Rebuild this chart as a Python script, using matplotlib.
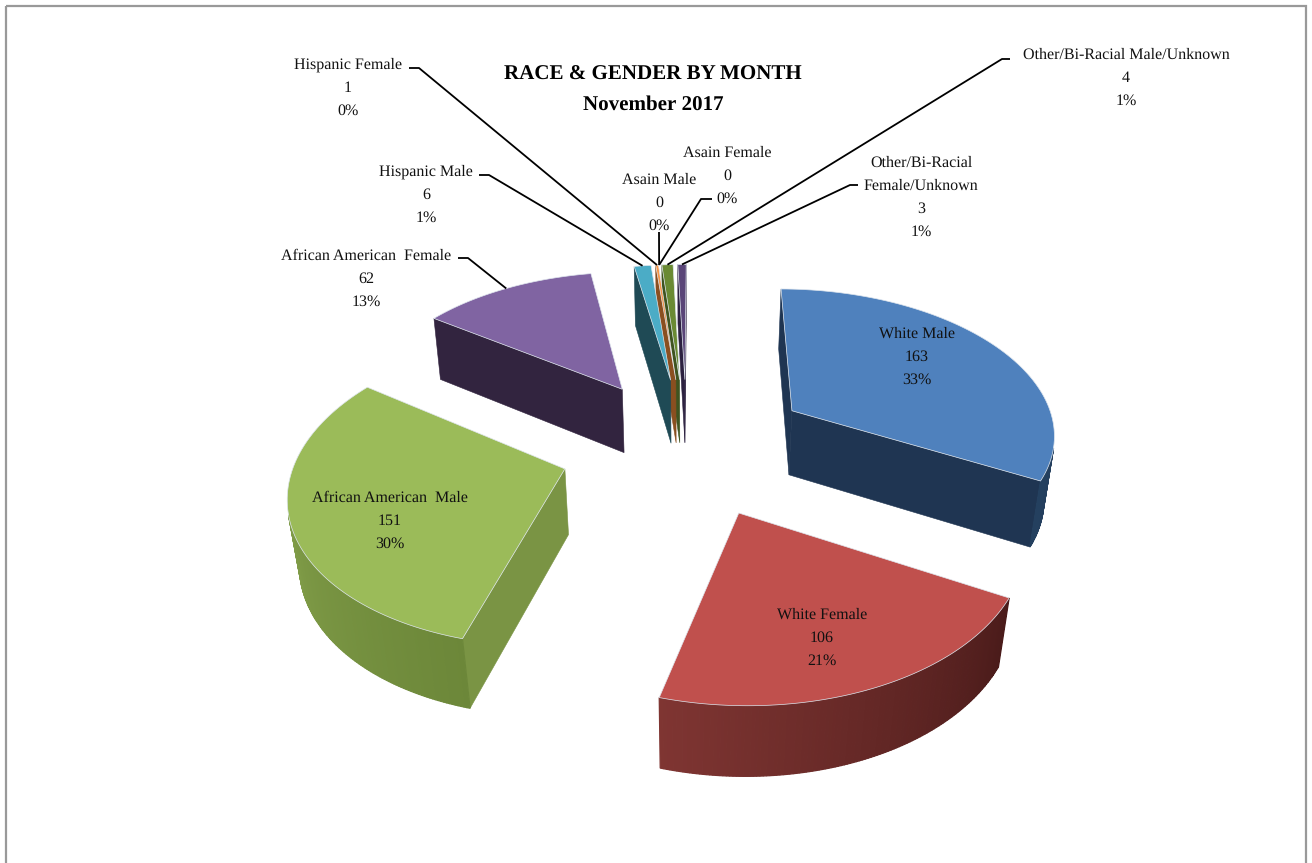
import numpy as np
import matplotlib
matplotlib.use("Agg")
import matplotlib.pyplot as plt
from matplotlib.colors import to_rgb
from matplotlib.patches import Rectangle

plt.rcParams["text.hinting"] = "no_hinting"
plt.rcParams["text.hinting_factor"] = 1

# ---- data ----
names = ["White Male", "White Female", "African American  Male", "African American  Female",
         "Hispanic Male", "Hispanic Female", "Asain Male", "Asain Female",
         "Other/Bi-Racial Male/Unknown", "Other/Bi-Racial\nFemale/Unknown"]
values = [163, 106, 151, 62, 6, 1, 0, 0, 4, 3]
percents = ["33%", "21%", "30%", "13%", "1%", "0%", "0%", "0%", "1%", "1%"]
title_lines = ["RACE & GENDER BY MONTH", "November 2017"]

# ---- style ----
top_colors = ["#4F81BD", "#C0504D", "#9BBB59", "#8064A2", "#4BACC6", "#F79646",
              "#2C4D75", "#772C2A", "#6A8A33", "#5A4578"]
radial_colors = ["#1F3552", "#4F1F1E", "#7A9444", "#32243F", "#1F4A55", "#8A4F20",
                 "#1F3552", "#4F1F1E", "#3F5420", "#2C2140"]
arc_start = ["#1F3552", "#4A1B1A", "#6C8739", "#32243F", "#1F4A55", "#8A4F20",
             "#1F3552", "#4F1F1E", "#3F5420", "#2C2140"]
arc_end = ["#24405F", "#7F3532", "#91AE54", "#32243F", "#1F4A55", "#8A4F20",
           "#1F3552", "#4F1F1E", "#3F5420", "#2C2140"]

# ---- projection parameters (pixel layout) ----
CX, CY = 686.5, 445.0
SX, SY = 279.0, 153.5
PERSP, HEIGHT, DROP = 0.14, 67.0, 0.03
EXPLODE, ROT, RADIUS = 0.453, 0.3, 0.955


def project(x, y, z=0.0):
    w = 1 + PERSP * y + DROP * z
    return CX + SX * x / w, CY + (-SY * y + HEIGHT * z) / w


total = sum(values)
angles = np.cumsum([0] + values) / total * 360 + ROT

fig = plt.figure(figsize=(13.12, 8.63), dpi=100)
ax = fig.add_axes([0, 0, 1, 1])
ax.set_xlim(0, 1312)
ax.set_ylim(863, 0)
ax.axis("off")
ax.add_patch(Rectangle((6, 6), 1300, 880, fill=False, ec="#999999", lw=1.6))


def signed(q):
    x, y = np.array(q).T
    return np.sum(x * np.roll(y, -1) - np.roll(x, -1) * y)


def mix(a, b, t):
    a, b = np.array(to_rgb(a)), np.array(to_rgb(b))
    return tuple(a + (b - a) * t)


slices = []
for i in range(len(values)):
    a0, a1 = np.radians(angles[i]), np.radians(angles[i + 1])
    mid = (a0 + a1) / 2
    slices.append((i, a0, a1, EXPLODE * np.sin(mid), EXPLODE * np.cos(mid)))


def rim(s, t, z=0.0):
    _, a0, a1, ox, oy = s
    a = a0 + (a1 - a0) * t
    return project(ox + RADIUS * np.sin(a), oy + RADIUS * np.cos(a), z)


for s in sorted(slices, key=lambda v: -v[4]):
    i, a0, a1, ox, oy = s
    if values[i] == 0:
        continue
    apex, apexb = project(ox, oy), project(ox, oy, 1)
    # radial walls
    q = [apex, rim(s, 0), rim(s, 0, 1), apexb]
    if signed(q) < 0:
        ax.fill(*zip(*q), fc=radial_colors[i], ec=radial_colors[i], lw=0.4)
    q = [rim(s, 1), apex, apexb, rim(s, 1, 1)]
    if signed(q) < 0:
        ax.fill(*zip(*q), fc=radial_colors[i], ec=radial_colors[i], lw=0.4)
    # outer wall, strip by strip
    n = max(4, int(values[i] * 1.2))
    ts = np.linspace(0, 1, n + 1)
    for t0, t1 in zip(ts[:-1], ts[1:]):
        q = [rim(s, t0), rim(s, t1), rim(s, t1, 1), rim(s, t0, 1)]
        if signed(q) < 0:
            c = mix(arc_start[i], arc_end[i], (t0 + t1) / 2)
            ax.fill(*zip(*q), fc=c, ec=c, lw=0.9)
    # top face
    top = [apex] + [rim(s, t) for t in np.linspace(0, 1, 80)]
    ax.fill(*zip(*top), fc=top_colors[i], ec="#dfe6ee", lw=0.5)

FONT = "Liberation Serif"
FS = 11.8


def multi(x, y, lines):
    for k, l in enumerate(lines):
        ax.text(x, y + k * 23, l, ha="center", va="center", family=FONT,
                fontsize=FS, color="#111111")


label_pos = [(917, 334), (822, 615), (390, 498), (366, 256), (426, 172),
             (348, 65), (659, 180), (727, 153), (1126, 55), (921, 163)]
for i, (x, y) in enumerate(label_pos):
    multi(x, y, names[i].split("\n") + [str(values[i]), percents[i]])

for k, l in enumerate(title_lines):
    ax.text(653, 75 + k * 30, l, ha="center", va="center", family=FONT,
            fontsize=15, fontweight="bold", color="black")

# leader lines: elbow points, ending on the wedge's projected rim
leaders = {3: [(458, 258), (468, 258)], 4: [(479, 175), (489, 175)],
           5: [(409, 68), (419, 68)], 6: [(659, 232)],
           7: [(712, 199), (701, 199)], 8: [(1010, 59), (1002, 59)],
           9: [(858, 185), (850, 185)]}
for i, pts in leaders.items():
    end = rim(slices[i], 0.5)
    xs, ys = zip(*(pts + [end]))
    ax.plot(xs, ys, color="black", lw=1.3, solid_capstyle="butt")

fig.savefig("out.png", dpi=100)
